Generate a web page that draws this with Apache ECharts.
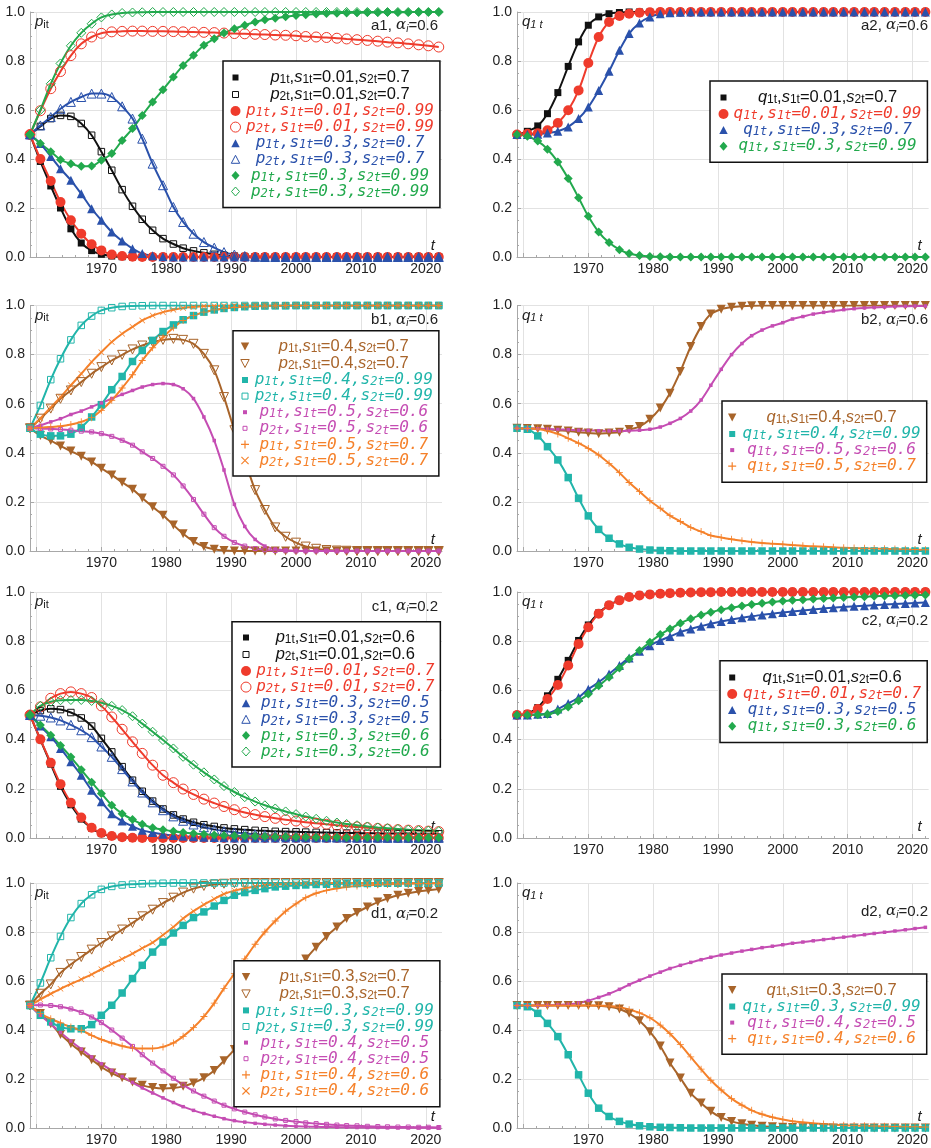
<!DOCTYPE html>
<html>
<head>
<meta charset="utf-8">
<title>p_it, q_1t</title>
<script src="https://cdn.jsdelivr.net/npm/echarts@6/dist/echarts.min.js"></script>
<style>
html, body { margin: 0; padding: 0; background: #fff; }
#main { width: 931px; height: 1148px; }
</style>
</head>
<body>
<div id="main"></div>
<script>
// 采样年份(横坐标)
const years = [1959, 1960.6, 1962.2, 1963.7, 1965.3, 1966.9, 1968.5, 1970, 1971.6, 1973.2,
	1974.8, 1976.3, 1977.9, 1979.5, 1981.1, 1982.6, 1984.2, 1985.8, 1987.4, 1988.9,
	1990.5, 1992.1, 1993.7, 1995.2, 1996.8, 1998.4, 2000, 2001.5, 2003.1, 2004.7,
	2006.3, 2007.8, 2009.4, 2011, 2012.6, 2014.1, 2015.7, 2017.3, 2018.9, 2020.4,
	2022];
// 刻度
const decadeTicks = [1960, 1970, 1980, 1990, 2000, 2010, 2020];
const decadeLabels = [1970, 1980, 1990, 2000, 2010, 2020];

// ---- a1 ----
const a1P1_001_07 = [.5,.39,.29,.2,.115,.057,.026,.011,.004,.001,
	0,0,0,0,0,0,0,0,0,0, 0,0,0,0,0,0,0,0,0,0, 0,0,0,0,0,0,0,0,0,0, 0];
const a1P2_001_07 = [.5,.533,.565,.578,.574,.545,.497,.43,.354,.275,
	.207,.154,.109,.075,.053,.036,.025,.017,.011,.007,
	.004,.002,.001,0,0,0,0,0,0,0, 0,0,0,0,0,0,0,0,0,0, 0];
const a1P1_001_099 = [.5,.4,.31,.224,.15,.095,.052,.027,.01,.004,
	.001,0,0,0,0,0,0,0,0,0, 0,0,0,0,0,0,0,0,0,0, 0,0,0,0,0,0,0,0,0,0, 0];
const a1P2_001_099 = [.5,.597,.687,.757,.822,.87,.898,.913,.919,.921,
	.922,.922,.921,.921,.92,.919,.918,.917,.916,.914,
	.912,.911,.909,.908,.906,.905,.903,.9,.898,.896,
	.893,.89,.887,.884,.881,.877,.874,.87,.866,.862, .857];
const a1P1_03_07 = [.5,.463,.41,.36,.313,.258,.197,.15,.102,.065,
	.034,.014,.005,.001,0,0,0,0,0,0, 0,0,0,0,0,0,0,0,0,0, 0,0,0,0,0,0,0,0,0,0, 0];
const a1P2_03_07 = [.5,.537,.571,.605,.633,.653,.667,.667,.653,.615,
	.565,.483,.381,.293,.204,.143,.095,.061,.038,.02,
	.01,.004,.001,0,0,0,0,0,0,0, 0,0,0,0,0,0,0,0,0,0, 0];
const a1P1_03_099 = [.5,.463,.43,.397,.381,.37,.371,.395,.422,.476,
	.524,.578,.633,.683,.735,.782,.823,.864,.891,.914,
	.932,.946,.959,.968,.975,.981,.986,.989,.992,.994,
	.995,.996,.997,.998,.998,.999,.999,.999,1,1, 1];
const a1P2_03_099 = [.5,.6,.707,.79,.862,.915,.952,.978,.99,.996,
	.998,.999,1,1,1,1,1,1,1,1, 1,1,1,1,1,1,1,1,1,1, 1,1,1,1,1,1,1,1,1,1, 1];

// ---- a2 ----
const a2Q_001_07 = [.5,.513,.535,.585,.671,.778,.878,.946,.98,.993,
	.998,1,1,1,1,1,1,1,1,1, 1,1,1,1,1,1,1,1,1,1, 1,1,1,1,1,1,1,1,1,1, 1];
const a2Q_001_099 = [.5,.503,.505,.517,.547,.599,.68,.792,.898,.959,
	.984,.993,.997,.999,1,1,1,1,1,1, 1,1,1,1,1,1,1,1,1,1, 1,1,1,1,1,1,1,1,1,1, 1];
const a2Q_03_07 = [.5,.5,.501,.506,.513,.531,.565,.612,.68,.758,
	.844,.912,.955,.98,.993,.997,.999,1,1,1, 1,1,1,1,1,1,1,1,1,1, 1,1,1,1,1,1,1,1,1,1, 1];
const a2Q_03_099 = [.5,.493,.473,.44,.388,.32,.242,.166,.102,.059,
	.03,.014,.006,.002,.001,0,0,0,0,0, 0,0,0,0,0,0,0,0,0,0, 0,0,0,0,0,0,0,0,0,0, 0];

// ---- b1 ----
const b1P1_04_07 = [.5,.47,.45,.428,.407,.386,.363,.337,.31,.28,
	.252,.216,.18,.146,.106,.07,.039,.018,.007,.002,
	0,0,0,0,0,0,0,0,0,0, 0,0,0,0,0,0,0,0,0,0, 0];
const b1P2_04_07 = [.5,.539,.58,.62,.654,.688,.722,.749,.776,.799,
	.821,.837,.851,.86,.864,.86,.844,.803,.736,.627,
	.492,.37,.248,.167,.096,.058,.034,.018,.009,.004,
	.002,.001,0,0,0,0,0,0,0,0, 0];
const b1P1_04_099 = [.5,.476,.469,.469,.476,.503,.546,.596,.657,.711,
	.772,.817,.858,.894,.921,.942,.959,.973,.982,.988,
	.992,.995,.997,.998,.999,.999,1,1,1,1, 1,1,1,1,1,1,1,1,1,1, 1];
const b1P2_04_099 = [.5,.593,.698,.783,.86,.919,.957,.98,.991,.996,
	.998,.999,1,1,1,1,1,1,1,1, 1,1,1,1,1,1,1,1,1,1, 1,1,1,1,1,1,1,1,1,1, 1];
const b1P1_05_06 = [.5,.512,.526,.539,.556,.57,.587,.603,.621,.638,
	.654,.668,.678,.682,.678,.661,.621,.546,.45,.33,
	.19,.1,.047,.02,.008,.003,.001,0,0,0, 0,0,0,0,0,0,0,0,0,0, 0];
const b1P2_05_06 = [.5,.499,.497,.495,.492,.488,.485,.478,.467,.451,
	.431,.404,.377,.345,.31,.265,.21,.15,.095,.06,
	.035,.02,.01,.005,.002,.001,0,0,0,0, 0,0,0,0,0,0,0,0,0,0, 0];
const b1P1_05_07 = [.5,.503,.505,.508,.515,.526,.543,.573,.614,.664,
	.718,.776,.828,.871,.909,.939,.959,.973,.982,.988,
	.992,.995,.997,.998,.999,1,1,1,1,1, 1,1,1,1,1,1,1,1,1,1, 1];
const b1P2_05_07 = [.5,.54,.585,.627,.675,.722,.77,.81,.851,.885,
	.913,.939,.959,.973,.983,.99,.994,.997,.998,.999,
	1,1,1,1,1,1,1,1,1,1, 1,1,1,1,1,1,1,1,1,1, 1];

// ---- b2 ----
const b2Q_04_07 = [.5,.499,.498,.496,.492,.489,.484,.481,.478,.481,
	.484,.495,.507,.537,.582,.643,.731,.833,.914,.965,
	.985,.993,.997,.999,1,1,1,1,1,1, 1,1,1,1,1,1,1,1,1,1, 1];
const b2Q_04_099 = [.5,.496,.469,.425,.371,.299,.215,.143,.088,.052,
	.029,.015,.008,.004,.002,.001,0,0,0,0, 0,0,0,0,0,0,0,0,0,0, 0,0,0,0,0,0,0,0,0,0, 0];
const b2Q_05_06 = [.5,.499,.498,.497,.495,.494,.492,.491,.49,.489,
	.489,.49,.492,.496,.505,.52,.54,.57,.615,.675,
	.74,.8,.845,.877,.9,.917,.93,.945,.955,.965,
	.972,.978,.983,.987,.99,.992,.994,.996,.997,.998, .998];
const b2Q_05_07 = [.5,.499,.497,.49,.477,.459,.439,.418,.391,.357,
	.319,.279,.242,.205,.174,.144,.12,.096,.079,.063,
	.055,.048,.042,.037,.033,.03,.027,.024,.021,.019,
	.017,.015,.013,.012,.011,.01,.009,.008,.007,.006, .005];

// ---- c1 ----
const c1P1_001_06 = [.5,.4,.3,.21,.135,.077,.04,.018,.007,.003,
	.001,0,0,0,0,0,0,0,0,0, 0,0,0,0,0,0,0,0,0,0, 0,0,0,0,0,0,0,0,0,0, 0];
const c1P2_001_06 = [.5,.518,.525,.522,.51,.488,.455,.405,.35,.29,
	.235,.19,.15,.118,.094,.077,.064,.054,.047,.041,
	.037,.034,.031,.029,.027,.026,.025,.024,.023,.022,
	.021,.02,.02,.019,.019,.018,.018,.018,.017,.017, .017];
const c1P1_001_07 = [.5,.401,.306,.219,.143,.083,.042,.02,.008,.003,
	.001,0,0,0,0,0,0,0,0,0, 0,0,0,0,0,0,0,0,0,0, 0,0,0,0,0,0,0,0,0,0, 0];
const c1P2_001_07 = [.5,.533,.568,.587,.594,.587,.571,.537,.492,.442,
	.391,.344,.296,.255,.225,.199,.177,.158,.142,.128,
	.115,.104,.095,.087,.08,.074,.069,.064,.06,.056,
	.052,.048,.045,.042,.039,.036,.034,.032,.03,.028, .026];
const c1P1_03_05 = [.5,.455,.412,.364,.31,.255,.194,.147,.099,.069,
	.048,.031,.022,.015,.01,.007,.005,.003,.002,.001,
	0,0,0,0,0,0,0,0,0,0, 0,0,0,0,0,0,0,0,0,0, 0];
const c1P2_03_05 = [.5,.497,.49,.478,.46,.438,.41,.372,.33,.28,
	.23,.185,.145,.113,.088,.07,.055,.044,.035,.028,
	.023,.018,.015,.012,.01,.008,.007,.006,.005,.004,
	.003,.003,.002,.002,.002,.001,.001,.001,.001,.001, .001];
const c1P1_03_06 = [.5,.459,.418,.376,.329,.277,.227,.181,.133,.099,
	.075,.056,.042,.034,.027,.022,.018,.015,.012,.01,
	.009,.008,.007,.006,.005,.005,.004,.004,.003,.003,
	.003,.002,.002,.002,.002,.002,.001,.001,.001,.001, .001];
const c1P2_03_06 = [.5,.537,.554,.56,.561,.561,.557,.55,.537,.52,
	.495,.465,.432,.398,.364,.33,.298,.267,.238,.211,
	.187,.166,.148,.133,.12,.108,.097,.087,.078,.07,
	.063,.057,.052,.047,.043,.04,.037,.034,.032,.03, .028];

// ---- c2 ----
const c2Q_001_06 = [.5,.505,.53,.578,.645,.722,.803,.866,.915,.947,
	.967,.98,.987,.991,.994,.996,.997,.998,.999,.999,
	1,1,1,1,1,1,1,1,1,1, 1,1,1,1,1,1,1,1,1,1, 1];
const c2Q_001_07 = [.5,.503,.524,.565,.622,.701,.789,.857,.912,.946,
	.966,.98,.986,.99,.993,.995,.997,.998,.999,.999,
	1,1,1,1,1,1,1,1,1,1, 1,1,1,1,1,1,1,1,1,1, 1];
const c2Q_03_05 = [.5,.5,.503,.506,.524,.547,.571,.605,.633,.667,
	.701,.732,.759,.782,.803,.819,.837,.85,.861,.871,
	.88,.888,.895,.901,.907,.912,.917,.921,.925,.929,
	.933,.936,.939,.942,.944,.947,.949,.951,.953,.955, .957];
const c2Q_03_06 = [.5,.5,.501,.503,.514,.533,.558,.585,.619,.653,
	.691,.728,.762,.796,.827,.85,.873,.891,.907,.918,
	.928,.936,.943,.949,.954,.959,.963,.966,.969,.972,
	.974,.976,.978,.98,.981,.983,.984,.985,.986,.987, .988];

// ---- d1 ----
const d1P1_03_07 = [.5,.467,.426,.382,.344,.31,.279,.249,.224,.205,
	.188,.174,.165,.161,.163,.17,.184,.205,.235,.275,
	.32,.375,.435,.495,.55,.597,.643,.69,.738,.782,
	.82,.855,.88,.902,.922,.937,.95,.958,.965,.97, .975];
const d1P2_03_07 = [.5,.548,.586,.633,.668,.698,.728,.755,.782,.81,
	.837,.864,.891,.918,.94,.961,.977,.988,.994,.997,
	.999,1,1,1,1,1,1,1,1,1, 1,1,1,1,1,1,1,1,1,1, 1];
const d1P1_03_099 = [.5,.46,.433,.412,.405,.405,.422,.46,.501,.551,
	.61,.664,.718,.759,.796,.827,.859,.882,.906,.929,
	.95,.961,.97,.977,.984,.987,.99,.992,.994,.995,
	.996,.997,.998,.998,.999,.999,.999,1,1,1, 1];
const d1P2_03_099 = [.5,.592,.695,.782,.859,.916,.952,.974,.986,.992,
	.995,.997,.998,.999,1,1,1,1,1,1, 1,1,1,1,1,1,1,1,1,1, 1,1,1,1,1,1,1,1,1,1, 1];
const d1P1_04_05 = [.5,.46,.425,.39,.355,.322,.29,.262,.235,.21,
	.186,.164,.143,.123,.104,.087,.072,.059,.048,.038,
	.03,.024,.019,.015,.012,.009,.007,.006,.005,.004,
	.003,.003,.002,.002,.002,.001,.001,.001,.001,.001, .001];
const d1P2_04_05 = [.5,.502,.5,.495,.486,.472,.453,.43,.4,.367,
	.333,.299,.265,.233,.203,.176,.151,.13,.11,.093,
	.078,.065,.054,.045,.037,.031,.026,.021,.018,.015,
	.012,.01,.009,.007,.006,.005,.004,.004,.003,.003, .002];
const d1P1_04_06 = [.5,.467,.446,.429,.412,.399,.378,.361,.347,.335,
	.327,.324,.324,.331,.347,.374,.41,.455,.51,.57,
	.63,.69,.75,.8,.845,.885,.915,.94,.958,.97,
	.978,.984,.988,.991,.993,.995,.996,.997,.998,.998, .999];
const d1P2_04_06 = [.5,.525,.548,.568,.588,.607,.627,.648,.67,.69,
	.712,.734,.757,.788,.82,.855,.885,.912,.935,.955,
	.969,.979,.986,.991,.994,.996,.997,.998,.999,1,
	1,1,1,1,1,1,1,1,1,1, 1];

// ---- d2 ----
const d2Q_03_07 = [.5,.5,.5,.5,.5,.5,.5,.5,.499,.495,
	.486,.468,.438,.393,.335,.265,.204,.142,.102,.068,
	.043,.027,.017,.011,.007,.005,.003,.002,.001,.001,
	0,0,0,0,0,0,0,0,0,0, 0];
const d2Q_03_099 = [.5,.495,.468,.427,.373,.299,.217,.142,.081,.047,
	.027,.016,.009,.005,.003,.002,.001,0,0,0, 0,0,0,0,0,0,0,0,0,0, 0,0,0,0,0,0,0,0,0,0, 0];
const d2Q_04_05 = [.5,.5,.5,.501,.503,.505,.51,.52,.533,.548,
	.566,.585,.603,.62,.636,.651,.664,.676,.687,.697,
	.706,.714,.722,.729,.736,.742,.748,.754,.759,.764,
	.769,.774,.779,.784,.789,.794,.799,.804,.809,.814, .819];
const d2Q_04_06 = [.5,.5,.5,.5,.5,.5,.5,.5,.5,.498,
	.493,.483,.47,.45,.42,.385,.34,.29,.24,.195,
	.155,.12,.093,.072,.056,.044,.035,.028,.023,.019,
	.016,.013,.011,.01,.009,.008,.007,.006,.005,.005, .004];

// 颜色
const C = {
	black: '#111111', red: '#ef3b2c', blue: '#2a51ab', green: '#22a94d',
	brown: '#a8642a', teal: '#21b5aa', magenta: '#c54db3', orange: '#f5812a'
};

// 标记: [系列符号, 图例符号, 是否空心]
const SYM = {
	sq:  ['rect', 'path://M0,0M10,10M2,2H8V8H2Z', false],
	osq: ['path://M0,0H10V10H0Z', 'path://M0,0M10,10M2,2H8V8H2Z', true],
	ci:  ['circle', 'circle', false],
	oci: ['path://M10,5A5,5,0,1,1,0,5A5,5,0,1,1,10,5Z', 'path://M10,5A5,5,0,1,1,0,5A5,5,0,1,1,10,5Z', true],
	tr:  ['triangle', 'path://M0,0M10,10M5,1L9.2,9H0.8Z', false],
	otr: ['path://M5,0L10,9L0,9Z', 'path://M0,0M10,10M5,1L9.2,9H0.8Z', true],
	di:  ['diamond', 'path://M0,0M10,10M5,0.5L9,5L5,9.5L1,5Z', false],
	odi: ['path://M5,0L10,5L5,10L0,5Z', 'path://M0,0M10,10M5,0.5L9,5L5,9.5L1,5Z', true],
	dt:  ['path://M0,0L10,0L5,9Z', 'path://M0,0M10,10M0.8,1H9.2L5,9Z', false],
	odt: ['path://M0,0L10,0L5,9Z', 'path://M0,0M10,10M0.8,1H9.2L5,9Z', true],
	sm:  ['rect', 'path://M0,0M10,10M3,3H7V7H3Z', false],
	osm: ['path://M0,0H10V10H0Z', 'path://M0,0M10,10M3,3H7V7H3Z', true],
	pl:  ['path://M4.4,0H5.6V10H4.4ZM0,4.4H10V5.6H0Z', 'path://M0,0M10,10M4.4,1H5.6V9H4.4ZM1,4.4H9V5.6H1Z', false],
	x:   ['path://M0,0.8L0.8,0L10,9.2L9.2,10ZM9.2,0L10,0.8L0.8,10L0,9.2Z', 'path://M0,0M10,10M1,1.8L1.8,1L9,8.2L8.2,9ZM8.2,1L9,1.8L1.8,9L1,8.2Z', false]
};

// 面板: 位置、图例、系列 [变量, 下标, s1, s2, 颜色, 符号, 大小, 等宽字体, 数据]
const panels = [
	{ id: 'a1', v: 'p', grid: { left: 30, top: 12, width: 412, height: 245 }, alpha: '0.6', tag: { right: 493, top: 17 },
		leg: { left: 223, top: 61, padding: [8, 6, 8, 7], w: 189 },
		series: [
			['p', 1, '0.01', '0.7', C.black, 'sq', 7, false, a1P1_001_07],
			['p', 2, '0.01', '0.7', C.black, 'osq', 6.5, false, a1P2_001_07],
			['p', 1, '0.01', '0.99', C.red, 'ci', 10, true, a1P1_001_099],
			['p', 2, '0.01', '0.99', C.red, 'oci', 10, true, a1P2_001_099],
			['p', 1, '0.3', '0.7', C.blue, 'tr', 9, true, a1P1_03_07],
			['p', 2, '0.3', '0.7', C.blue, 'otr', 9, true, a1P2_03_07],
			['p', 1, '0.3', '0.99', C.green, 'di', 9, true, a1P1_03_099],
			['p', 2, '0.3', '0.99', C.green, 'odi', 9, true, a1P2_03_099]
		] },
	{ id: 'a2', v: 'q', grid: { left: 517, top: 12, width: 412, height: 245 }, alpha: '0.6', tag: { right: 3, top: 17 },
		leg: { left: 710, top: 81, padding: [8, 6, 8, 8.5], w: 188 },
		series: [
			['q', 1, '0.01', '0.7', C.black, 'sq', 7, false, a2Q_001_07],
			['q', 1, '0.01', '0.99', C.red, 'ci', 10, true, a2Q_001_099],
			['q', 1, '0.3', '0.7', C.blue, 'tr', 9, true, a2Q_03_07],
			['q', 1, '0.3', '0.99', C.green, 'di', 9, true, a2Q_03_099]
		] },
	{ id: 'b1', v: 'p', grid: { left: 30, top: 305.5, width: 412, height: 245.5 }, alpha: '0.6', tag: { right: 493, top: 311.5 },
		leg: { left: 233, top: 330.7, padding: [7.3, 6, 7.3, 6.5], w: 177.5 },
		series: [
			['p', 1, '0.4', '0.7', C.brown, 'dt', 9, false, b1P1_04_07],
			['p', 2, '0.4', '0.7', C.brown, 'odt', 9, false, b1P2_04_07],
			['p', 1, '0.4', '0.99', C.teal, 'sq', 7.5, true, b1P1_04_099],
			['p', 2, '0.4', '0.99', C.teal, 'osq', 6.5, true, b1P2_04_099],
			['p', 1, '0.5', '0.6', C.magenta, 'sm', 3.5, true, b1P1_05_06],
			['p', 2, '0.5', '0.6', C.magenta, 'osm', 4, true, b1P2_05_06],
			['p', 1, '0.5', '0.7', C.orange, 'pl', 7, true, b1P1_05_07],
			['p', 2, '0.5', '0.7', C.orange, 'x', 6, true, b1P2_05_07]
		] },
	{ id: 'b2', v: 'q', grid: { left: 517, top: 305.5, width: 412, height: 245.5 }, alpha: '0.6', tag: { right: 3, top: 311.5 },
		leg: { left: 722, top: 401, padding: [8, 6, 8, 5.2], w: 178.8 },
		series: [
			['q', 1, '0.4', '0.7', C.brown, 'dt', 9, false, b2Q_04_07],
			['q', 1, '0.4', '0.99', C.teal, 'sq', 7.5, true, b2Q_04_099],
			['q', 1, '0.5', '0.6', C.magenta, 'sm', 3.5, true, b2Q_05_06],
			['q', 1, '0.5', '0.7', C.orange, 'pl', 7, true, b2Q_05_07]
		] },
	{ id: 'c1', v: 'p', grid: { left: 30, top: 592, width: 412, height: 246 }, alpha: '0.2', tag: { right: 493, top: 598 },
		leg: { left: 232, top: 621.7, padding: [7.3, 6, 7.3, 8.5], w: 178.5 },
		series: [
			['p', 1, '0.01', '0.6', C.black, 'sq', 7, false, c1P1_001_06],
			['p', 2, '0.01', '0.6', C.black, 'osq', 6.5, false, c1P2_001_06],
			['p', 1, '0.01', '0.7', C.red, 'ci', 10, true, c1P1_001_07],
			['p', 2, '0.01', '0.7', C.red, 'oci', 10, true, c1P2_001_07],
			['p', 1, '0.3', '0.5', C.blue, 'tr', 9, true, c1P1_03_05],
			['p', 2, '0.3', '0.5', C.blue, 'otr', 9, true, c1P2_03_05],
			['p', 1, '0.3', '0.6', C.green, 'di', 9, true, c1P1_03_06],
			['p', 2, '0.3', '0.6', C.green, 'odi', 9, true, c1P2_03_06]
		] },
	{ id: 'c2', v: 'q', grid: { left: 517, top: 592, width: 412, height: 246 }, alpha: '0.2', tag: { right: 3, top: 612 },
		leg: { left: 720, top: 660.7, padding: [8.3, 6, 8.3, 7.2], w: 179.8 },
		series: [
			['q', 1, '0.01', '0.6', C.black, 'sq', 7, false, c2Q_001_06],
			['q', 1, '0.01', '0.7', C.red, 'ci', 10, true, c2Q_001_07],
			['q', 1, '0.3', '0.5', C.blue, 'tr', 9, true, c2Q_03_05],
			['q', 1, '0.3', '0.6', C.green, 'di', 9, true, c2Q_03_06]
		] },
	{ id: 'd1', v: 'p', grid: { left: 30, top: 883, width: 412, height: 245 }, alpha: '0.2', tag: { right: 493, top: 905.5 },
		leg: { left: 234, top: 960.7, padding: [7.7, 6, 7.7, 6.5], w: 177.5 },
		series: [
			['p', 1, '0.3', '0.7', C.brown, 'dt', 9, false, d1P1_03_07],
			['p', 2, '0.3', '0.7', C.brown, 'odt', 9, false, d1P2_03_07],
			['p', 1, '0.3', '0.99', C.teal, 'sq', 7.5, true, d1P1_03_099],
			['p', 2, '0.3', '0.99', C.teal, 'osq', 6.5, true, d1P2_03_099],
			['p', 1, '0.4', '0.5', C.magenta, 'sm', 3.5, true, d1P1_04_05],
			['p', 2, '0.4', '0.5', C.magenta, 'osm', 4, true, d1P2_04_05],
			['p', 1, '0.4', '0.6', C.orange, 'pl', 7, true, d1P1_04_06],
			['p', 2, '0.4', '0.6', C.orange, 'x', 6, true, d1P2_04_06]
		] },
	{ id: 'd2', v: 'q', grid: { left: 517, top: 883, width: 412, height: 245 }, alpha: '0.2', tag: { right: 3, top: 903 },
		leg: { left: 722, top: 974, padding: [7.5, 6, 7.5, 5.2], w: 178.8 },
		series: [
			['q', 1, '0.3', '0.7', C.brown, 'dt', 9, false, d2Q_03_07],
			['q', 1, '0.3', '0.99', C.teal, 'sq', 7.5, true, d2Q_03_099],
			['q', 1, '0.4', '0.5', C.magenta, 'sm', 3.5, true, d2Q_04_05],
			['q', 1, '0.4', '0.6', C.orange, 'pl', 7, true, d2Q_04_06]
		] }
];

const SANS = 'Liberation Sans, Arial, sans-serif';
const MONO = 'DejaVu Sans Mono, monospace';
const LH = 16.2;

// 图例文字(富文本)
function label(v, i, s1, s2, mono) {
	if (mono) {
		return '{mi|' + v + '}{ms|' + i + 't}{mi|,s}{ms|1t}{mi|=' + s1 + ',s}{ms|2t}{mi|=' + s2 + '}';
	}
	return '{ai|' + v + '}{as|' + i + 't}{ar|,}{ai|s}{as|1t}{ar|=' + s1 + ',}{ai|s}{as|2t}{ar|=' + s2 + '}';
}

const legendRich = {
	ai: { fontFamily: SANS, fontStyle: 'italic', fontSize: 16.5, lineHeight: LH, align: 'center' },
	ar: { fontFamily: SANS, fontSize: 16.5, lineHeight: LH, align: 'center' },
	as: { fontFamily: SANS, fontSize: 12, lineHeight: LH, verticalAlign: 'bottom', align: 'center' },
	mi: { fontFamily: MONO, fontStyle: 'italic', fontSize: 16, lineHeight: LH, align: 'center' },
	ms: { fontFamily: MONO, fontStyle: 'italic', fontSize: 12, lineHeight: LH, verticalAlign: 'bottom', align: 'center' }
};

const option = {
	backgroundColor: '#fff',
	animation: false,
	grid: [], xAxis: [], yAxis: [], series: [], legend: [], title: []
};
const labels = {};

panels.forEach(function (p, gi) {
	option.grid.push(Object.assign({ containLabel: false }, p.grid));
	// 主x轴: 十年刻度、网格线、标签
	option.xAxis.push({
		type: 'value', gridIndex: gi, position: 'bottom', min: 1959, max: 2022.5,
		name: 't', nameLocation: 'end', nameGap: -7,
		nameTextStyle: { fontFamily: SANS, fontStyle: 'italic', fontSize: 15, color: '#222', align: 'right', verticalAlign: 'bottom', padding: [0, 0, 4, 0] },
		axisLine: { onZero: false, lineStyle: { color: '#a8a8a8', width: 1 } },
		axisTick: { inside: true, length: 4, customValues: decadeTicks, lineStyle: { color: '#a8a8a8' } },
		axisLabel: {
			customValues: decadeLabels, margin: 5, fontFamily: SANS, fontSize: 14, color: '#222',
			formatter: function (v) { return String(v); }
		},
		splitLine: { show: true, lineStyle: { color: '#e2e2e2', width: 1 } }
	});
	// 次x轴: 两年一个小刻度
	const minor = [];
	for (let y = 1960; y <= 2022; y += 2) {
		if (y % 10 !== 0) minor.push(y);
	}
	option.xAxis.push({
		type: 'value', gridIndex: gi, position: 'bottom', min: 1959, max: 2022.5,
		axisLine: { show: false },
		axisTick: { inside: true, length: 2, customValues: minor, lineStyle: { color: '#a8a8a8' } },
		axisLabel: { show: false },
		splitLine: { show: false }
	});
	option.yAxis.push({
		type: 'value', gridIndex: gi, min: 0, max: 1, interval: 0.2,
		name: p.v === 'p' ? '{v|p}{s|it}' : '{v|q}{s|1 t}',
		nameLocation: 'end', nameGap: -2,
		nameTextStyle: {
			align: 'left', verticalAlign: 'top', padding: [0, 0, 0, 5],
			rich: {
				v: { fontFamily: SANS, fontStyle: 'italic', fontSize: 15, color: '#222', lineHeight: 16 },
				s: { fontFamily: SANS, fontStyle: p.v === 'p' ? 'normal' : 'italic', fontSize: 11, color: '#222', lineHeight: 16, verticalAlign: 'bottom' }
			}
		},
		axisLine: { show: true, lineStyle: { color: '#a8a8a8', width: 1 } },
		axisTick: { show: true, inside: true, length: 4, lineStyle: { color: '#a8a8a8' } },
		minorTick: { show: true, splitNumber: 4, length: 2, lineStyle: { color: '#a8a8a8' } },
		axisLabel: { margin: 5, fontFamily: SANS, fontSize: 14, color: '#222', formatter: function (v) { return v.toFixed(1); } },
		splitLine: { show: true, lineStyle: { color: '#e2e2e2', width: 1 } }
	});

	const legData = [];
	p.series.forEach(function (s) {
		const sym = SYM[s[5]];
		const hollow = sym[2];
		const name = p.id + '|' + s[0] + s[1] + s[2] + s[3];
		labels[name] = label(s[0], s[1], s[2], s[3], s[7]);
		option.series.push({
			name: name, type: 'line', xAxisIndex: gi * 2, yAxisIndex: gi,
			data: years.map(function (t, k) { return [t, s[8][k]]; }),
			symbol: sym[0], symbolSize: s[6], showAllSymbol: true,
			smooth: 0.3,
			lineStyle: { color: s[4], width: 2 },
			itemStyle: hollow
				? { color: 'rgba(255,255,255,0)', borderColor: s[4], borderWidth: 1 }
				: { color: s[4], borderWidth: 0 },
			emphasis: { disabled: true },
			silent: true
		});
		legData.push({
			name: name, icon: sym[1],
			itemStyle: hollow
				? { color: 'rgba(255,255,255,0)', borderColor: s[4], borderWidth: 1 }
				: { color: s[4], borderWidth: 0 },
			textStyle: { color: s[4] }
		});
	});

	option.legend.push({
		orient: 'vertical', left: p.leg.left, top: p.leg.top, padding: p.leg.padding,
		itemGap: 0, itemWidth: 10, itemHeight: 10,
		backgroundColor: '#fff', borderColor: '#111', borderWidth: 1.5,
		selectedMode: false,
		data: legData,
		formatter: function (name) { return labels[name]; },
		textStyle: { width: p.leg.w, rich: legendRich }
	});

	// 右上角标注 a1, αi=0.6
	option.title.push({
		text: '{n|' + p.id + ', }{g|α}{s|i}{n|=' + p.alpha + '}',
		right: p.tag.right, top: p.tag.top, padding: 0,
		textStyle: {
			fontWeight: 'normal',
			rich: {
				n: { fontFamily: SANS, fontWeight: 'normal', fontSize: 15, color: '#222', lineHeight: 17 },
				g: { fontFamily: 'DejaVu Serif, serif', fontWeight: 'normal', fontStyle: 'italic', fontSize: 15, color: '#222', lineHeight: 17 },
				s: { fontFamily: SANS, fontWeight: 'normal', fontStyle: 'italic', fontSize: 10, color: '#222', lineHeight: 17, verticalAlign: 'bottom' }
			}
		}
	});
});

const chart = echarts.init(document.getElementById('main'), null, { renderer: 'canvas' });
chart.setOption(option);
</script>
</body>
</html>
